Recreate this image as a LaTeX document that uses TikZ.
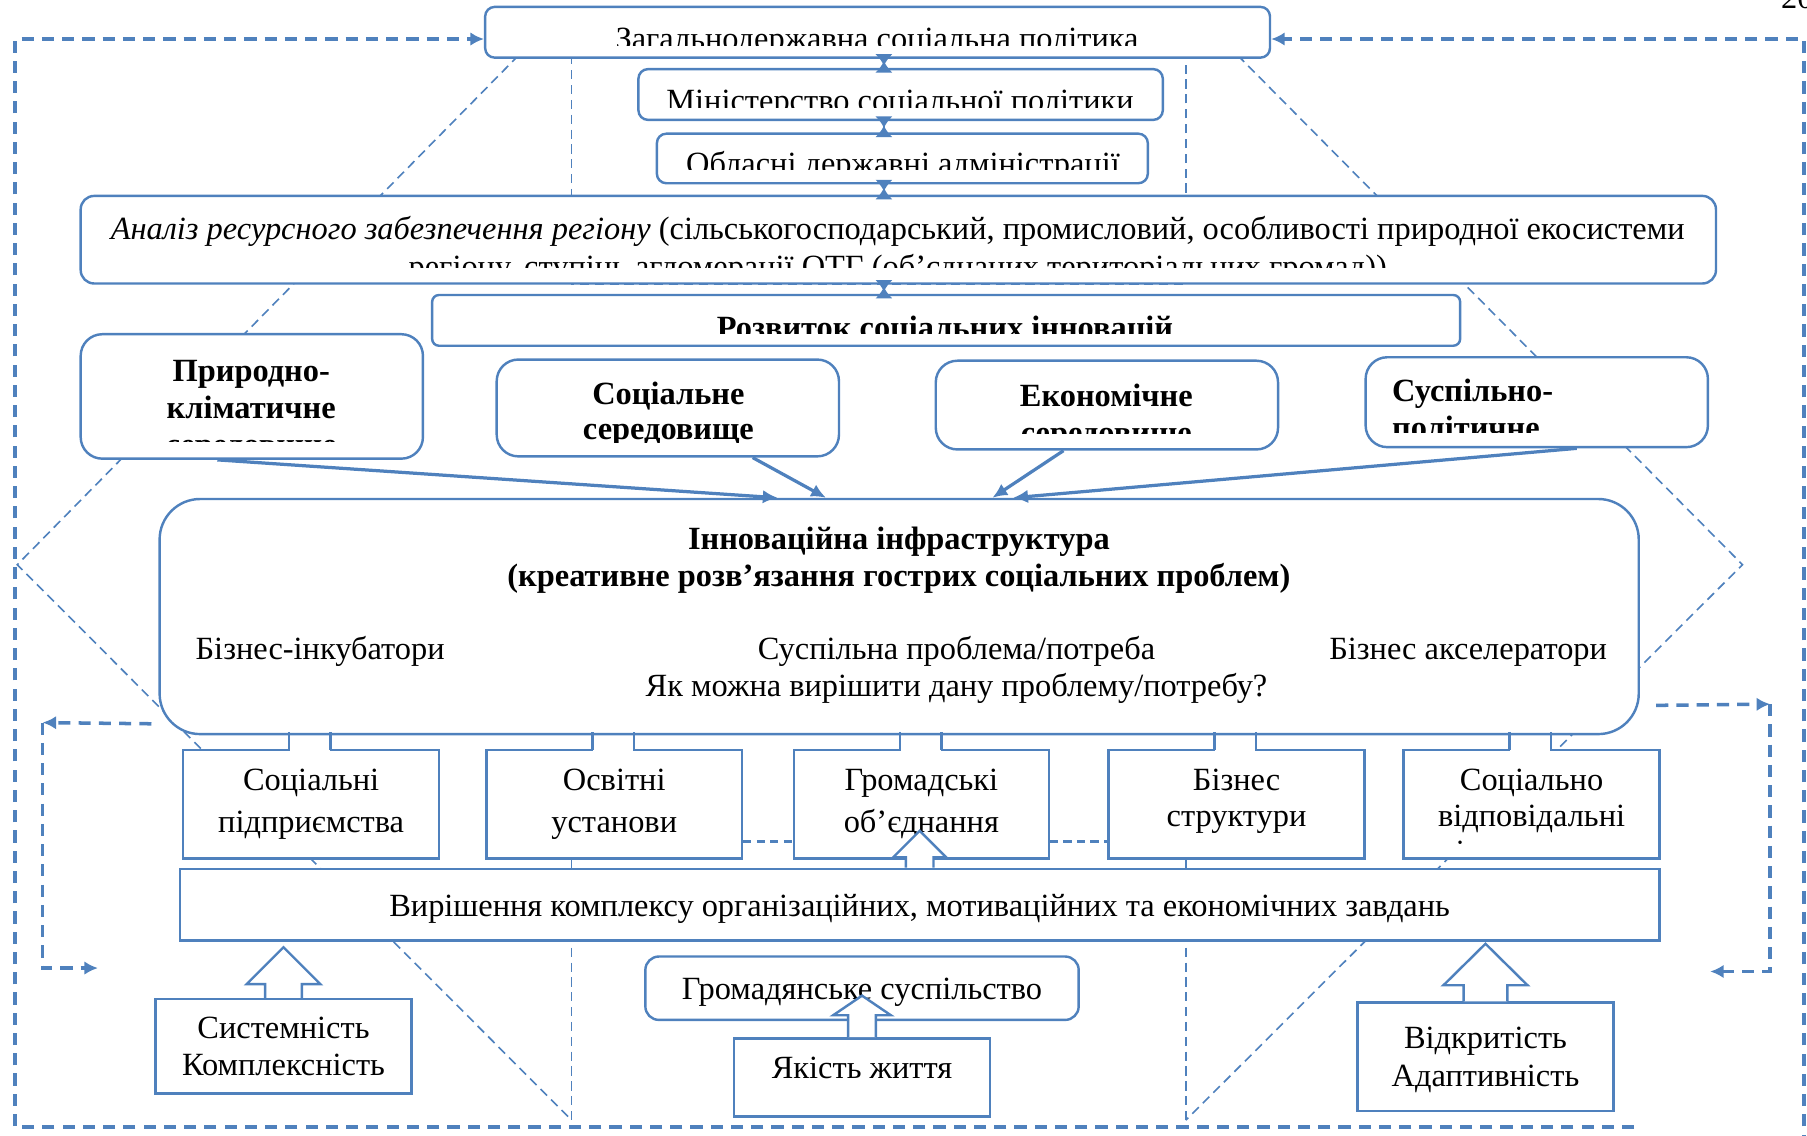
\documentclass[tikz,border=0pt]{standalone}
\usepackage{fontspec}
\setmainfont{Liberation Serif}
\usetikzlibrary{arrows.meta,positioning,calc,fit}
\definecolor{accent}{HTML}{4F81BD}

\begin{document}
\begin{tikzpicture}[x=0.015cm,y=-0.015cm,
  font=\fontsize{12}{13.7}\selectfont,
  box/.style={draw=accent,line width=0.9pt,fill=white,inner sep=0pt},
  rbox/.style={box,rounded corners=3.5pt},
  ebox/.style={box,rounded corners=8pt},
  txt/.style={anchor=base,align=center,inner sep=0pt},
  btxt/.style={txt,font=\fontsize{12}{13.7}\selectfont\bfseries},
  prism/.style={accent,line width=0.6pt,dash pattern=on 3.4pt off 2.1pt},
  feed/.style={accent,line width=1.3pt,dash pattern=on 4.5pt off 3pt,-{Latex[length=5pt,width=5pt]}},
  dlink/.style={accent,line width=1pt,dash pattern=on 3pt off 2pt},
  arr/.style={accent,line width=1.2pt,-{Latex[length=5.5pt,width=5pt]}},
  hg/.style={accent,line width=0.8pt,{Latex[reversed,length=4.2pt,width=6.5pt]}-{Latex[reversed,length=4.2pt,width=6.5pt]}},
  tabline/.style={accent,line width=0.9pt},
  blockarr/.style={draw=accent,line width=0.9pt,fill=white}]

\useasboundingbox (0,0) rectangle (1568,985);

% background prism
\draw[prism] (450,48) -- (15,490) -- (496,972) (1074,48) -- (1512,490) -- (1029,972);
\draw[prism] (496,48) -- (496,247) -- (1029,247) -- (1029,48);
\draw[prism] (496,745) -- (496,972) (1029,745) -- (1029,972);

% boxes
\node[rbox,fit={(421,6) (1102,50)}] (gov) {};
\node[rbox,fit={(554,60) (1009,104)}] (min) {};
\node[rbox,fit={(570,116) (996,159)}] (obl) {};
\node[box,rounded corners=5pt,fit={(70,170) (1489,246)}] (res) {};
\node[box,rounded corners=2.5pt,fit={(375,256) (1267,300)}] (dev) {};
\node[ebox,fit={(70,290) (367,398)}] (nat) {};
\node[ebox,fit={(431,312) (728,396)}] (soc) {};
\node[ebox,fit={(812,313) (1109,390)}] (eco) {};
\node[ebox,fit={(1185,310) (1482,388)}] (pol) {};
\node[box,rounded corners=15pt,fit={(138.5,433) (1422,637)}] (infra) {};
\node[box,fit={(159,651) (381,745)}] (ent) {};
\node[box,fit={(422,651) (644,745)}] (edu) {};
\node[box,fit={(689,651) (910,745)}] (ngo) {};
\node[box,fit={(962,651) (1184,745)}] (bus) {};
\node[box,fit={(1218,651) (1440,745)}] (csr) {};
\node[box,fit={(156,754) (1440,816)}] (task) {};
\node[box,fit={(135,867) (357,949)}] (sys) {};
\node[box,rounded corners=5pt,fit={(560,830) (936,885)}] (civ) {};
\node[box,fit={(637,901) (859,969)}] (life) {};
\node[box,fit={(1178,870) (1400,964)}] (open) {};

% texts cut by their boxes (base = last line)
\begin{scope}
  \clip (gov.north west) rectangle (1102,39.5);
  \node[txt] (gov-t) at (761,43) {Загальнодержавна соціальна політика};
\end{scope}
\begin{scope}
  \clip (min.north west) rectangle (1009,93);
  \node[txt] (min-t) at (781,96.5) {Міністерство соціальної політики};
\end{scope}
\begin{scope}
  \clip (obl.north west) rectangle (996,147.5);
  \node[txt] (obl-t) at (783.5,151.5) {Обласні державні адміністрації};
\end{scope}
\begin{scope}
  \clip (res.north west) rectangle (1489,232);
  \node[txt,font=\fontsize{12}{14.2}\selectfont] (res-t) at (779,241)
    {\textit{Аналіз ресурсного забезпечення регіону} (сільськогосподарський, промисловий, особливості природної екосистеми\\
     регіону, ступінь агломерації ОТГ (об’єднаних територіальних громад))};
\end{scope}
\begin{scope}
  \clip (dev.north west) rectangle (1267,289);
  \node[btxt] (dev-t) at (820,294) {Розвиток соціальних інновацій};
\end{scope}
\begin{scope}
  \clip (nat.north west) rectangle (367,383);
  \node[btxt] (nat-t) at (218,395) {Природно-\\кліматичне\\середовище};
\end{scope}
\begin{scope}
  \clip (soc.north west) rectangle (728,384);
  \node[btxt,font=\fontsize{12}{13}\selectfont\bfseries] (soc-t) at (580,381.5) {Соціальне\\середовище};
\end{scope}
\begin{scope}
  \clip (eco.north west) rectangle (1109,376);
  \node[btxt] (eco-t) at (960,384.5) {Економічне\\середовище};
\end{scope}
\begin{scope}
  \clip (pol.north west) rectangle (1482,375.5);
  \node[btxt,anchor=base west,align=left] (pol-t) at (1207.6,412.6) {Суспільно-\\політичне\\середовище};
\end{scope}
\begin{scope}
  \clip (csr.north west) rectangle (1440,734);
  \node[txt,font=\fontsize{12}{13.4}\selectfont] (csr-t) at (1329,748.6) {Соціально\\відповідальні\\підприємства};
\end{scope}

% texts
\node[btxt] (infra-t) at (780,509) {Інноваційна інфраструктура\\(креативне розв’язання гострих соціальних проблем)};
\node[txt,anchor=base west] (inc) at (169.3,572.7) {Бізнес-інкубатори};
\node[txt] (need) at (830,604.5) {Суспільна проблема/потреба\\Як можна вирішити дану проблему/потребу?};
\node[txt,anchor=base west] (acc) at (1153,572.7) {Бізнес акселератори};
\node[txt,font=\fontsize{12}{15.4}\selectfont] (ent-t) at (270,722) {Соціальні\\підприємства};
\node[txt,font=\fontsize{12}{15.4}\selectfont] (edu-t) at (533,722) {Освітні\\установи};
\node[txt,font=\fontsize{12}{15.4}\selectfont] (ngo-t) at (799.5,722) {Громадські\\об’єднання};
\node[txt,font=\fontsize{12}{13.4}\selectfont] (bus-t) at (1073,717) {Бізнес\\структури};
\node[txt] (task-t) at (798,795.5) {Вирішення комплексу організаційних, мотиваційних та економічних завдань};
\node[txt] (sys-t) at (246,933) {Системність\\Комплексність};
\node[txt] (civ-t) at (748,867) {Громадянське суспільство};
\node[txt] (life-t) at (748,935.7) {Якість життя};
\node[txt,font=\fontsize{12}{14.2}\selectfont] (open-t) at (1289,943) {Відкритість\\Адаптивність};
\node[txt,anchor=base west] (page) at (1545,7) {20};

% vertical chain
\coordinate (ax) at (767,0);
\draw[hg] ($(gov.south -| ax)+(0,-4)$) -- ($(min.north -| ax)+(0,4)$);
\draw[hg] ($(min.south -| ax)+(0,-4)$) -- ($(obl.north -| ax)+(0,4)$);
\draw[hg] ($(obl.south -| ax)+(0,-4)$) -- ($(res.north -| ax)+(0,4)$);
\draw[hg] ($(res.south -| ax)+(0,-4)$) -- ($(dev.north -| ax)+(0,4)$);

% environments into the infrastructure
\draw[arr] ($(nat.south west)!.40!(nat.south east)$) -- ($(infra.north west)!.418!(infra.north east)$);
\draw[arr] ($(soc.south west)!.746!(soc.south east)$) -- ($(infra.north west)!.4506!(infra.north east)$);
\draw[arr] ($(eco.south west)!.374!(eco.south east)$) -- ($(infra.north west)!.5629!(infra.north east)$);
\draw[arr] ($(pol.south west)!.616!(pol.south east)$) -- ($(infra.north west)!.5769!(infra.north east)$);

% tabs of the lower boxes
\foreach \b in {ent,edu,ngo,bus,csr}{
  \fill[white] ($(\b.north west)+(93.6,-2.5)$) rectangle ($(\b.north west)+(128.4,2)$);
  \draw[tabline] ($(\b.north west)+(93,0.5)$) -- ++(0,-15) ($(\b.north west)+(129,0.5)$) -- ++(0,-15);
}
\draw[dlink] ([yshift=-13.7pt]edu.east) -- ([yshift=-13.7pt]ngo.west);
\draw[dlink] ([yshift=-13.7pt]ngo.east) -- ([yshift=-13.7pt]bus.west);

% block arrows
\draw[blockarr] ($(task.north)+(-12,0)$) -- ++(0,-9) -- ++(-11,0) -- ++(23,-23) -- ++(23,23) -- ++(-11,0) -- ++(0,9);
\draw[blockarr] ($(sys.north)+(-16,0)$) -- ++(0,-12) -- ++(-16,0) -- ++(32,-32) -- ++(32,32) -- ++(-16,0) -- ++(0,12);
\draw[blockarr] ($(life.north)+(-12,0)$) -- ++(0,-19) -- ++(-13,0) -- ++(25,-17) -- ++(25,17) -- ++(-13,0) -- ++(0,19);
\draw[blockarr] ($(open.north)+(-19,0)$) -- ++(0,-14) -- ++(-17.5,0) -- ++(36.5,-36) -- ++(36.5,36) -- ++(-17.5,0) -- ++(0,14);

% feedback loops
\coordinate (ob) at (1418,978);
\coordinate (oc) at (13,978);
\coordinate (or) at (1565.5,995);
\draw[feed] (ob) -- (oc) |- ([yshift=-2.5pt]gov.west);
\draw[feed] (or) |- ([yshift=-2.5pt]gov.east);
\coordinate (il) at (37,627);
\coordinate (il2) at (85,840);
\draw[feed] ($(infra.south west)+(-6,-10)$) -- (il);
\draw[feed] (il) |- (il2);
\coordinate (ir) at (1536,611);
\coordinate (ir2) at (1484,843);
\draw[feed] ($(infra.south east)+(14,-26)$) -- (ir);
\draw[feed] (ir) |- (ir2);
\end{tikzpicture}
\end{document}
